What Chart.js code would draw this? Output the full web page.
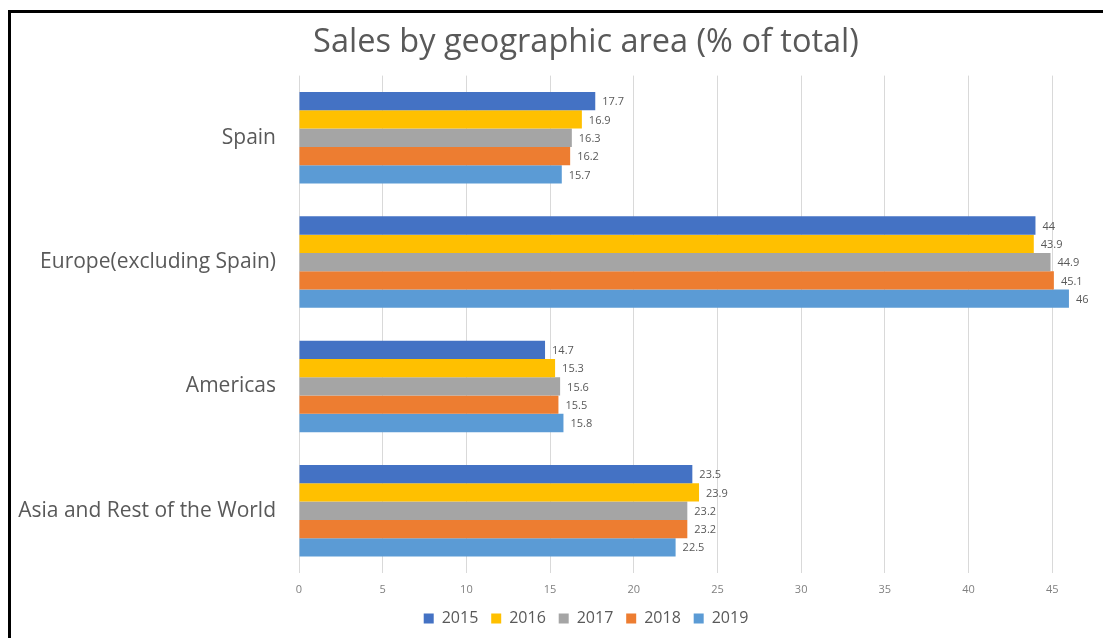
<!DOCTYPE html>
<html>
<head>
<meta charset="utf-8">
<script src="https://cdn.jsdelivr.net/npm/chart.js@4/dist/chart.umd.min.js"></script>
<style>
  html, body { margin: 0; padding: 0; background: #fff; overflow: hidden; width: 1103px; height: 638px; }
  #frame {
    position: absolute; left: 8px; top: 10px;
    width: 1160px; height: 640px;
    border: 3px solid #000;
    background: #fff;
  }
  canvas { display: block; }
</style>
</head>
<body>
<div id="frame"><canvas id="chart" width="1150" height="625"></canvas></div>
<script>
// Regions and yearly share of sales (% of total)
const regions = ['Spain', 'Europe(excluding Spain)', 'Americas', 'Asia and Rest of the World'];
const years = ['2015', '2016', '2017', '2018', '2019'];
const sales2015 = [17.7, 44, 14.7, 23.5];
const sales2016 = [16.9, 43.9, 15.3, 23.9];
const sales2017 = [16.3, 44.9, 15.6, 23.2];
const sales2018 = [16.2, 45.1, 15.5, 23.2];
const sales2019 = [15.7, 46, 15.8, 22.5];
const xTickValues = [0, 5, 10, 15, 20, 25, 30, 35, 40, 45, 50];

const seriesValues = [sales2015, sales2016, sales2017, sales2018, sales2019];
const seriesColors = ['#4472C4', '#FFC000', '#A5A5A5', '#ED7D31', '#5B9BD5'];

const FONT = "'Open Sans', 'Noto Sans', sans-serif";
const TEXT = '#595959';

// Value labels at the end of each bar
const valueLabels = {
  id: 'valueLabels',
  afterDatasetsDraw(chart) {
    const ctx = chart.ctx;
    ctx.save();
    ctx.font = '11px ' + FONT;
    ctx.fillStyle = TEXT;
    ctx.textAlign = 'left';
    ctx.textBaseline = 'middle';
    chart.data.datasets.forEach((ds, di) => {
      const meta = chart.getDatasetMeta(di);
      meta.data.forEach((bar, i) => {
        ctx.fillText(String(ds.data[i]), bar.x + 7, bar.y + 1);
      });
    });
    ctx.restore();
  }
};

new Chart(document.getElementById('chart'), {
  type: 'bar',
  data: {
    labels: regions,
    datasets: years.map((y, i) => ({
      label: y,
      data: seriesValues[i],
      backgroundColor: seriesColors[i],
      borderWidth: 0,
      categoryPercentage: 0.736,
      barPercentage: 1.0
    }))
  },
  options: {
    indexAxis: 'y',
    responsive: false,
    animation: false,
    layout: { padding: { left: 0, right: 0, top: 0, bottom: 1.5 } },
    plugins: {
      title: {
        display: true,
        text: 'Sales by geographic area (% of total)',
        color: TEXT,
        font: { family: FONT, size: 32.5, weight: 'normal', lineHeight: 1.2 },
        padding: { top: 10.5, bottom: 13.1 }
      },
      legend: {
        position: 'bottom',
        labels: {
          color: TEXT,
          boxWidth: 10,
          boxHeight: 10,
          padding: 12.9,
          font: { family: FONT, size: 16 }
        }
      },
      tooltip: { enabled: false }
    },
    scales: {
      x: {
        type: 'linear',
        min: 0,
        max: 51.5,
        afterBuildTicks(scale) {
          scale.ticks = xTickValues.map(v => ({ value: v }));
        },
        afterFit(scale) { scale.height = 24.7; },
        grid: { color: '#D9D9D9', lineWidth: 1, drawTicks: false },
        border: { display: false },
        ticks: {
          padding: 10,
          color: '#808080',
          font: { family: FONT, size: 11 }
        }
      },
      y: {
        afterFit(scale) { scale.width = 288; },
        grid: { display: false, drawTicks: false },
        border: { display: false },
        ticks: {
          padding: 23,
          color: TEXT,
          font: { family: FONT, size: 21 }
        }
      }
    }
  },
  plugins: [valueLabels]
});
</script>
</body>
</html>
